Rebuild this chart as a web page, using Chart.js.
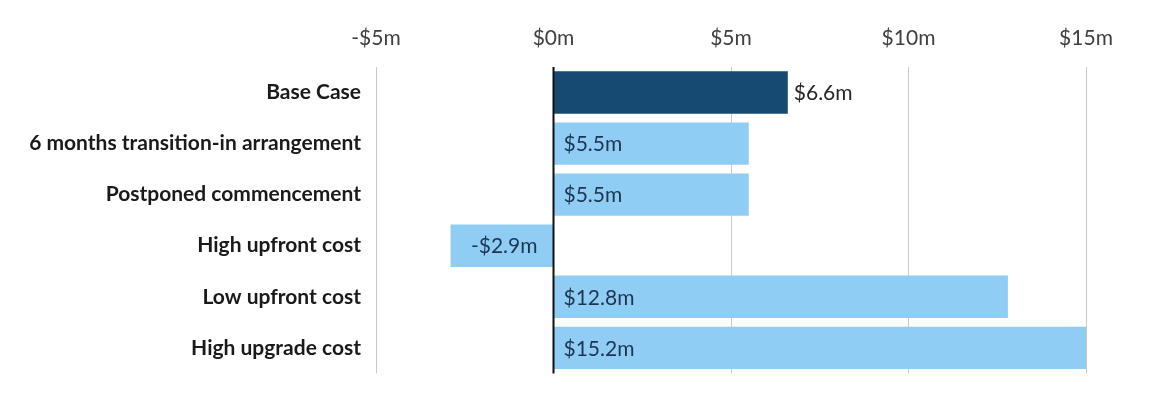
<!DOCTYPE html>
<html>
<head>
<meta charset="utf-8">
<script src="https://cdn.jsdelivr.net/npm/chart.js@4/dist/chart.umd.min.js"></script>
<style>
  html, body { margin: 0; padding: 0; background: #fff; }
  #wrap { width: 1157px; height: 401px; }
</style>
</head>
<body>
<div id="wrap"><canvas id="npvChart"></canvas></div>
<script>
// Scenario results, $m
const scenarios = [
    'Base Case',
    '6 months transition-in arrangement',
    'Postponed commencement',
    'High upfront cost',
    'Low upfront cost',
    'High upgrade cost'
];
const npvValues = [6.6, 5.5, 5.5, -2.9, 12.8, 15.2];
const axisTicks = [-5, 0, 5, 10, 15];

const FONT = 'Lato, "Open Sans", sans-serif';

function money(v) {
    return (v < 0 ? '-$' : '$') + Math.abs(v).toFixed(Number.isInteger(v) ? 0 : 1) + 'm';
}

// zero line on top of the bars plus the value labels
const valueLabels = {
    id: 'valueLabels',
    afterDatasetsDraw(chart) {
        const ctx = chart.ctx;
        const x = chart.scales.x;
        const area = chart.chartArea;
        const zero = x.getPixelForValue(0);

        ctx.save();
        ctx.strokeStyle = '#111';
        ctx.lineWidth = 2;
        ctx.beginPath();
        ctx.moveTo(zero, area.top);
        ctx.lineTo(zero, area.bottom);
        ctx.stroke();

        ctx.font = '21px ' + FONT;
        ctx.textBaseline = 'middle';
        chart.getDatasetMeta(0).data.forEach((bar, i) => {
            const v = npvValues[i];
            const text = money(v);
            if (i === 0) {
                // base case label sits past the end of the bar
                ctx.fillStyle = '#262626';
                ctx.textAlign = 'left';
                ctx.fillText(text, bar.x + 6, bar.y + 1);
            } else if (v < 0) {
                ctx.fillStyle = '#1d3550';
                ctx.textAlign = 'right';
                ctx.fillText(text, zero - 16, bar.y + 1);
            } else {
                ctx.fillStyle = '#1d3550';
                ctx.textAlign = 'left';
                ctx.fillText(text, zero + 10, bar.y + 1);
            }
        });
        ctx.restore();
    }
};

new Chart(document.getElementById('npvChart'), {
    type: 'bar',
    data: {
        labels: scenarios,
        datasets: [{
            data: npvValues,
            backgroundColor: npvValues.map((v, i) => i === 0 ? '#174a72' : '#8fcdf5'),
            borderWidth: 0,
            categoryPercentage: 0.83,
            barPercentage: 1
        }]
    },
    options: {
        indexAxis: 'y',
        responsive: true,
        maintainAspectRatio: false,
        animation: false,
        layout: { padding: { left: 0, right: 71, top: 0, bottom: 21 } },
        plugins: {
            legend: { display: false },
            tooltip: { enabled: false }
        },
        scales: {
            x: {
                position: 'top',
                min: -5,
                max: 15,
                afterBuildTicks(axis) {
                    axis.ticks = axisTicks.map(v => ({ value: v }));
                },
                afterFit(axis) { axis.height = 67; },
                border: { display: false },
                grid: {
                    drawTicks: false,
                    color: ctx => ctx.tick && ctx.tick.value === 0 ? 'rgba(0,0,0,0)' : '#c9c9c9',
                    lineWidth: 1
                },
                ticks: {
                    padding: 16,
                    color: '#404040',
                    font: { family: FONT, size: 21 },
                    callback: v => money(v)
                }
            },
            y: {
                afterFit(axis) { axis.width = 376; },
                border: { display: false },
                grid: { display: false, drawTicks: false },
                ticks: {
                    padding: 15,
                    color: '#1a1a1a',
                    font: { family: FONT, size: 21, weight: 'bold' }
                }
            }
        }
    },
    plugins: [valueLabels]
});
</script>
</body>
</html>
